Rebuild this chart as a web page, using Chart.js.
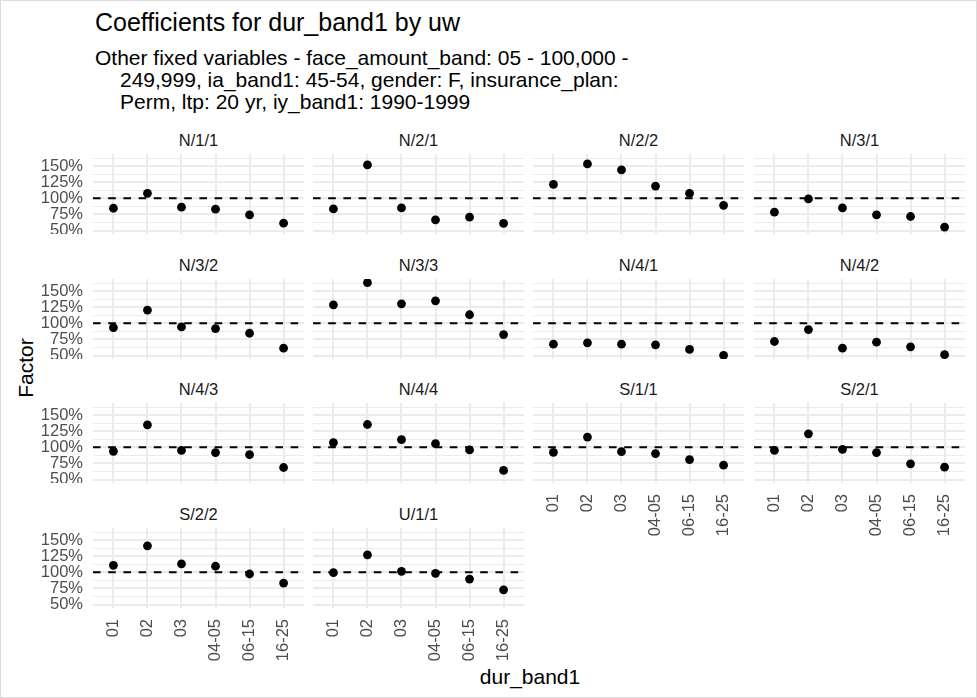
<!DOCTYPE html>
<html>
<head>
<meta charset="utf-8">
<script src="https://cdn.jsdelivr.net/npm/chart.js@4.4.1/dist/chart.umd.min.js"></script>
<style>
  html, body { margin: 0; padding: 0; background: #fff; }
  #fig { position: relative; width: 977px; height: 698px; overflow: hidden; background: #fff;
         font-family: "Liberation Sans", Arial, sans-serif; }
  #frame { position: absolute; left: 0; top: 0; width: 975px; height: 696px; border: 1px solid #dcdcdc; }
  .txt { position: absolute; white-space: nowrap; line-height: 1; }
  canvas { position: absolute; }
</style>
</head>
<body>
<div id="fig">
  <div id="frame"></div>
  <div class="txt" style="left:95px;top:10px;font-size:25px;color:#000;">Coefficients for dur_band1 by uw</div>
  <div class="txt" style="left:95px;top:47px;font-size:21px;color:#000;">Other fixed variables - face_amount_band: 05 - 100,000 -</div>
  <div class="txt" style="left:120px;top:69px;font-size:21px;color:#000;">249,999, ia_band1: 45-54, gender: F, insurance_plan:</div>
  <div class="txt" style="left:120px;top:91px;font-size:21px;color:#000;">Perm, ltp: 20 yr, iy_band1: 1990-1999</div>
  <div class="txt" id="ytitle" style="font-size:21px;color:#000;">Factor</div>
  <div class="txt" id="xtitle" style="font-size:21px;color:#000;">dur_band1</div>
</div>
<script>
// x categories (duration bands)
const DUR_BANDS = ['01', '02', '03', '04-05', '06-15', '16-25'];

// underwriting class facets
const UW_GROUPS = ['N/1/1', 'N/2/1', 'N/2/2', 'N/3/1', 'N/3/2', 'N/3/3', 'N/4/1',
                   'N/4/2', 'N/4/3', 'N/4/4', 'S/1/1', 'S/2/1', 'S/2/2', 'U/1/1'];

// coefficient (factor, %) per duration band for each underwriting class
const N_1_1 = [84.6, 107.7, 86.2, 83.1, 74.4, 61.5];
const N_2_1 = [83.6, 151.8, 85.1, 66.7, 70.8, 61.0];
const N_2_2 = [121.5, 153.3, 144.1, 119.0, 107.7, 89.2];
const N_3_1 = [78.5, 99.0, 85.1, 74.4, 71.8, 55.4];
const N_3_2 = [93.3, 120.5, 94.4, 91.8, 84.6, 61.5];
const N_3_3 = [128.7, 163.1, 130.3, 134.9, 113.3, 82.6];
const N_4_1 = [67.7, 69.7, 67.7, 66.7, 59.5, 50.3];
const N_4_2 = [71.8, 90.3, 61.5, 70.8, 63.6, 51.3];
const N_4_3 = [93.8, 134.9, 95.4, 91.8, 88.7, 68.7];
const N_4_4 = [107.2, 135.4, 111.8, 105.6, 95.9, 64.1];
const S_1_1 = [92.3, 115.9, 93.3, 90.3, 81.0, 72.3];
const S_2_1 = [95.4, 121.0, 96.9, 91.8, 74.4, 69.2];
const S_2_2 = [110.9, 141.1, 113.0, 109.4, 97.4, 83.3];
const U_1_1 = [99.5, 127.1, 101.6, 98.4, 89.6, 72.9];

// y axis breaks (major every 25%, minor in between)
const Y_TICKS = [50, 62.5, 75, 87.5, 100, 112.5, 125, 137.5, 150, 162.5];
const Y_LABELED = [50, 75, 100, 125, 150];

// reference level drawn as a dashed line
const REFERENCE = 100;

const SERIES = [N_1_1, N_2_1, N_2_2, N_3_1, N_3_2, N_3_3, N_4_1,
                N_4_2, N_4_3, N_4_4, S_1_1, S_2_1, S_2_2, U_1_1];

// ---- layout ----
const FONT = '"Liberation Sans", Arial, sans-serif';
const NCOL = 4;
const PANEL_X = [93, 313, 533, 754];
const PANEL_Y = [154, 279, 403, 528];
const PW = 211, PH = 80;
const Y_AXIS_W = 80, X_AXIS_H = 75;

// shared y range with 5% expansion as in the faceted plot
const allVals = SERIES.flat();
const lo = Math.min(...allVals), hi = Math.max(...allVals);
const padY = (hi - lo) * 0.05;
const Y_MIN = lo - padY, Y_MAX = hi + padY;

const fig = document.getElementById('fig');

function addText(txt, cx, cy, size, color) {
  const d = document.createElement('div');
  d.className = 'txt';
  d.textContent = txt;
  d.style.fontSize = size + 'px';
  d.style.color = color;
  d.style.left = cx + 'px';
  d.style.top = cy + 'px';
  d.style.transform = 'translate(-50%, -50%)';
  fig.appendChild(d);
}

// keep the plotting area exactly where the panel box is
function pinScale(s, w, h) {
  if (w !== null) s.width = w;
  if (h !== null) s.height = h;
  s.paddingTop = 0; s.paddingBottom = 0; s.paddingLeft = 0; s.paddingRight = 0;
}

const gridColor = '#EBEBEB';

UW_GROUPS.forEach((name, i) => {
  const col = i % NCOL, row = Math.floor(i / NCOL);
  const showY = col === 0;
  const lastInCol = (i + NCOL) >= UW_GROUPS.length;
  const yw = showY ? Y_AXIS_W : 0;
  const xh = lastInCol ? X_AXIS_H : 0;

  const cv = document.createElement('canvas');
  cv.width = PW + yw;
  cv.height = PH + xh;
  cv.style.width = (PW + yw) + 'px';
  cv.style.height = (PH + xh) + 'px';
  cv.style.left = (PANEL_X[col] - yw) + 'px';
  cv.style.top = PANEL_Y[row] + 'px';
  fig.appendChild(cv);

  // facet strip label
  addText(name, PANEL_X[col] + PW / 2, PANEL_Y[row] - 14, 16.5, '#1A1A1A');

  const pts = SERIES[i].map((v, k) => ({ x: k + 1, y: v }));

  new Chart(cv, {
    data: {
      datasets: [
        {
          type: 'scatter', data: pts, order: 0, clip: false,
          pointRadius: 4.4, pointBackgroundColor: '#000', pointBorderWidth: 0, pointBorderColor: '#000'
        },
        {
          type: 'line', order: 1,
          data: [{ x: 0.4, y: REFERENCE }, { x: DUR_BANDS.length + 0.6, y: REFERENCE }],
          borderColor: '#000', borderWidth: 1.9, borderDash: [7.6, 7.6], pointRadius: 0, fill: false
        }
      ]
    },
    options: {
      responsive: false, animation: false, events: [], devicePixelRatio: 1,
      layout: { padding: 0, autoPadding: false },
      plugins: { legend: { display: false }, tooltip: { enabled: false } },
      scales: {
        x: {
          type: 'linear', min: 0.4, max: DUR_BANDS.length + 0.6,
          afterBuildTicks: s => { s.ticks = DUR_BANDS.map((_, k) => ({ value: k + 1 })); },
          afterFit: s => pinScale(s, null, xh),
          border: { display: false },
          grid: { color: gridColor, lineWidth: 2, drawTicks: false },
          ticks: {
            display: lastInCol, autoSkip: false, maxRotation: 90, minRotation: 90, padding: 11,
            color: '#4D4D4D', font: { family: FONT, size: 16.5 },
            callback: v => DUR_BANDS[Math.round(v) - 1]
          }
        },
        y: {
          type: 'linear', min: Y_MIN, max: Y_MAX,
          afterBuildTicks: s => { s.ticks = Y_TICKS.map(v => ({ value: v })); },
          afterFit: s => pinScale(s, yw, null),
          border: { display: false },
          grid: {
            color: gridColor, drawTicks: false,
            lineWidth: ctx => (ctx.tick && Y_LABELED.includes(ctx.tick.value)) ? 2 : 1
          },
          ticks: {
            display: showY, autoSkip: false, padding: 10, color: '#4D4D4D', font: { family: FONT, size: 16.5 },
            callback: v => Y_LABELED.includes(v) ? v + '%' : ''
          }
        }
      }
    }
  });
});

// axis titles
const yt = document.getElementById('ytitle');
yt.style.left = '25px'; yt.style.top = '368px';
yt.style.transform = 'translate(-50%, -50%) rotate(-90deg)';
const xt = document.getElementById('xtitle');
xt.style.left = '530px'; xt.style.top = '676px';
xt.style.transform = 'translate(-50%, -50%)';
</script>
</body>
</html>
